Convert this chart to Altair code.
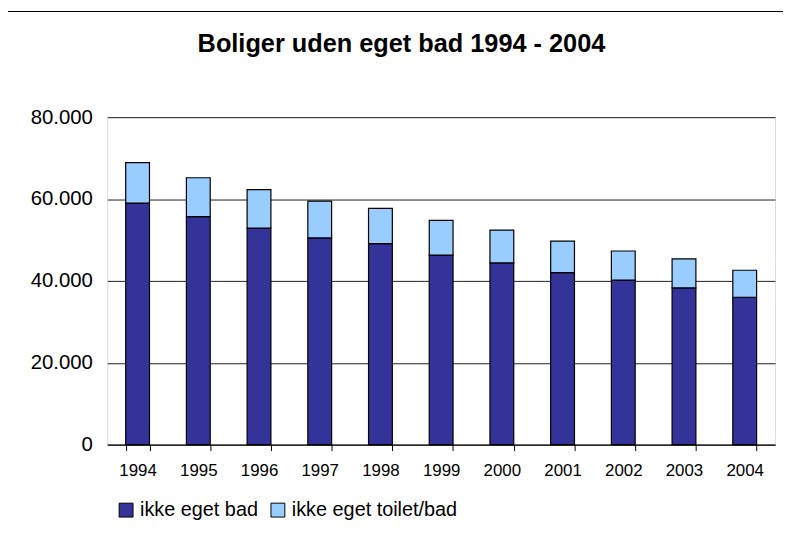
import altair as alt
import pandas as pd

years = ["1994", "1995", "1996", "1997", "1998", "1999", "2000", "2001", "2002", "2003", "2004"]
ikke_eget_bad = [59000, 55700, 52900, 50500, 49100, 46300, 44400, 42000, 40200, 38300, 36000]
ikke_eget_toilet_bad = [9900, 9500, 9400, 9000, 8600, 8500, 8000, 7700, 7100, 7100, 6600]
series = ["ikke eget bad", "ikke eget toilet/bad"]
colors = ["#333399", "#99CCFF"]
y_ticks = [0, 20000, 40000, 60000, 80000]
title_text = "Boliger uden eget bad 1994 - 2004"

rows = []
for i, yr in enumerate(years):
    rows.append({"year": yr, "serie": series[0], "value": ikke_eget_bad[i], "order": 0})
    rows.append({"year": yr, "serie": series[1], "value": ikke_eget_toilet_bad[i], "order": 1})
df = pd.DataFrame(rows)

FONT = "Liberation Sans"

bars = alt.Chart(df).mark_bar(stroke="black", strokeWidth=1.2).encode(
    x=alt.X(
        "year:N",
        sort=years,
        scale=alt.Scale(paddingInner=0.608, paddingOuter=0.304),
        axis=alt.Axis(
            title=None, labelAngle=0, tickBand="extent", ticks=True, tickSize=6,
            tickColor="black", domainColor="black", labelFontSize=17,
            labelPadding=12.5, labelColor="black", grid=False, labelFont=FONT,
        ),
    ),
    y=alt.Y(
        "value:Q",
        stack="zero",
        scale=alt.Scale(domain=[0, 80000]),
        axis=alt.Axis(
            title=None, values=y_ticks,
            labelExpr="replace(format(datum.value, ','), ',', '.')",
            grid=True, gridColor="#222222", gridWidth=1, domain=False, ticks=False,
            labelPadding=15, labelFontSize=20.5, labelColor="black", labelFont=FONT,
        ),
    ),
    color=alt.Color(
        "serie:N",
        scale=alt.Scale(domain=series, range=colors),
        legend=alt.Legend(
            title=None, orient="none", legendX=9, legendY=386, direction="horizontal",
            symbolType="square", symbolSize=196, symbolStrokeColor="black",
            symbolStrokeWidth=1, labelFontSize=20, labelOffset=4, columnPadding=10,
            padding=0, labelColor="black", labelFont=FONT, labelLimit=0,
        ),
    ),
    order=alt.Order("order:Q", sort="ascending"),
)

frame_data = pd.DataFrame({"a": [0]})
frame_top = alt.Chart(frame_data).mark_rect(color="black", strokeWidth=0).encode(
    x=alt.value(-100), x2=alt.value(681), y=alt.value(-107), y2=alt.value(-106)
)

title = alt.Chart(pd.DataFrame({"t": [title_text]})).mark_text(
    font=FONT, fontSize=25.5, fontWeight="bold", align="center",
    baseline="alphabetic", color="black",
).encode(
    text="t:N", x=alt.value(296.5), y=alt.value(-66)
)

chart = alt.layer(frame_top, title, bars).properties(
    width=673,
    height=330,
    autosize=alt.AutoSizeParams(type="none"),
    padding={"left": 100, "top": 108, "right": 8, "bottom": 80},
).configure_view(stroke=None).configure(font=FONT)

chart.save("out.html", embed_options={"renderer": "svg", "actions": False})
